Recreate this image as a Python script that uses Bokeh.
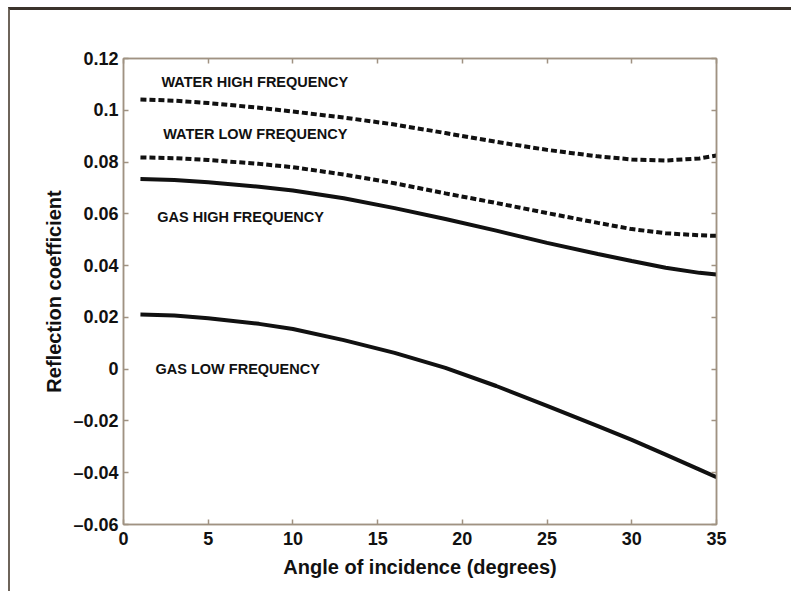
from bokeh.plotting import figure
from bokeh.models import LinearAxis, FixedTicker
from bokeh.core.properties import value
from bokeh.embed import file_html
from bokeh.resources import INLINE

# Reflection coefficient versus angle of incidence
angle = [1, 3, 5, 8, 10, 13, 16, 19, 22, 25, 28, 30, 32, 34, 35]
water_high = [0.1042, 0.1037, 0.1028, 0.1010, 0.0995, 0.0972, 0.0945, 0.0912,
              0.0878, 0.0847, 0.0822, 0.0810, 0.0806, 0.0814, 0.0825]
water_low = [0.0818, 0.0815, 0.0808, 0.0793, 0.0780, 0.0752, 0.0718, 0.0679,
             0.0642, 0.0603, 0.0565, 0.0541, 0.0525, 0.0517, 0.0515]
gas_high = [0.0735, 0.0731, 0.0722, 0.0705, 0.0690, 0.0660, 0.0622, 0.0580,
            0.0535, 0.0488, 0.0445, 0.0418, 0.0392, 0.0372, 0.0366]
gas_low = [0.0211, 0.0207, 0.0197, 0.0175, 0.0155, 0.0112, 0.0063, 0.0005,
           -0.0065, -0.0142, -0.0220, -0.0273, -0.0330, -0.0388, -0.0417]

# Curve annotations
label_text = ["WATER HIGH FREQUENCY", "WATER LOW FREQUENCY",
              "GAS HIGH FREQUENCY", "GAS LOW FREQUENCY"]
label_x = [2.24, 2.34, 1.99, 1.89]
label_y = [0.1108, 0.0908, 0.0587, 0.0000]

# Axis ticks
x_ticks = [0, 5, 10, 15, 20, 25, 30, 35]
y_ticks = [0.12, 0.10, 0.08, 0.06, 0.04, 0.02, 0.0, -0.02, -0.04, -0.06]
y_tick_labels = ["0.12", "0.1", "0.08", "0.06", "0.04", "0.02", "0",
                 "\u20130.02", "\u20130.04", "\u20130.06"]

AXIS = "#a09282"
INK = "#111111"
FONT = "Liberation Sans"

p = figure(width=783, height=584, x_range=(0, 35), y_range=(-0.06, 0.12),
           output_backend="svg", toolbar_location=None,
           min_border_left=113, min_border_right=77,
           min_border_top=48, min_border_bottom=70)
p.styles = {"margin-left": "8px", "margin-top": "7px",
            "border-top": "3px solid #3b332b",
            "border-left": "2px solid #6e645a"}
p.background_fill_color = "white"
p.border_fill_color = "white"
p.outline_line_color = AXIS
p.outline_line_width = 1.5
p.grid.visible = False

# Tick-only axes on the top and right edges of the frame
p.add_layout(LinearAxis(major_label_text_color=None), "above")
p.add_layout(LinearAxis(major_label_text_color=None), "right")

for ax in p.xaxis:
    ax.ticker = FixedTicker(ticks=x_ticks)
for ax in p.yaxis:
    ax.ticker = FixedTicker(ticks=y_ticks)
    ax.major_label_overrides = {t: s for t, s in zip(y_ticks, y_tick_labels)}

for ax in p.axis:
    ax.axis_line_color = AXIS
    ax.axis_line_width = 1.5
    ax.major_tick_line_color = AXIS
    ax.major_tick_line_width = 1.5
    ax.major_tick_in = 5
    ax.major_tick_out = 0
    ax.minor_tick_line_color = None
    ax.major_label_text_font = FONT
    ax.major_label_text_font_style = "bold"
    ax.major_label_text_font_size = "18px"
    ax.major_label_standoff = 5
    ax.axis_label_text_font = FONT
    ax.axis_label_text_font_style = "bold"
    ax.axis_label_text_font_size = "20px"
    ax.axis_label_text_color = INK

for ax in (p.below[0], p.left[0]):
    ax.major_label_text_color = INK

p.below[0].major_label_standoff = 7
p.below[0].axis_label = "Angle of incidence (degrees)"
p.below[0].axis_label_standoff = 8
p.left[0].axis_label = "Reflection coefficient"
p.left[0].axis_label_standoff = 5

p.line(angle, water_high, line_color=INK, line_width=4, line_dash="6 3")
p.line(angle, water_low, line_color=INK, line_width=4, line_dash="6 3")
p.line(angle, gas_high, line_color=INK, line_width=4)
p.line(angle, gas_low, line_color=INK, line_width=4)

p.text(x=label_x, y=label_y, text=label_text, text_font=value(FONT),
       text_font_style="bold", text_font_size="14.5px", text_color=INK,
       text_align="left", text_baseline="middle")

open("out.html", "w").write(file_html(p, INLINE))
